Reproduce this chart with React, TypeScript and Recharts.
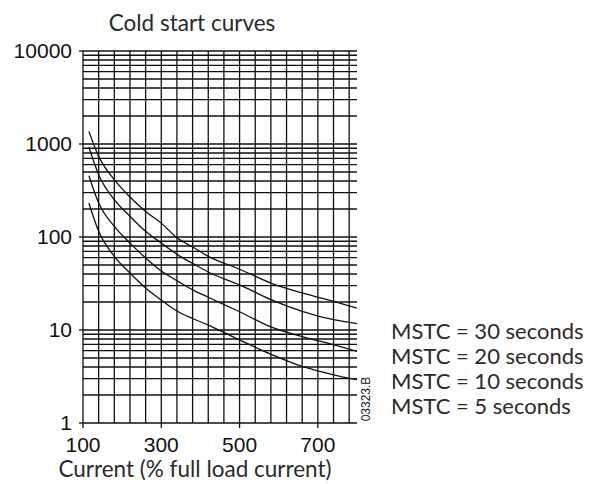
import { LineChart, Line, XAxis, YAxis, CartesianGrid, Customized } from 'recharts';

const currents = [115, 140, 180, 220, 260, 300, 340, 380, 420, 500, 580, 660, 740, 800];
const mstc30 = [1366, 736, 413, 269, 188, 141, 98, 78, 62, 45, 32, 25, 20.3, 17.2];
const mstc20 = [929, 468, 252, 167, 115, 86, 65, 52, 42, 30.5, 21.2, 15.9, 12.9, 11.7];
const mstc10 = [456, 232, 130, 86, 59.5, 43, 34, 27, 22.5, 15.7, 10.8, 8.5, 6.95, 5.9];
const mstc5 = [232, 115, 62, 41, 28.3, 21, 16, 13.3, 11.3, 7.8, 5.5, 4.06, 3.3, 2.92];

const xTicks = [100, 300, 500, 700];
const yTicks = [1, 10, 100, 1000, 10000];
const xGrid = [140, 180, 220, 260, 300, 340, 380, 420, 460, 500, 540, 580, 620, 660, 700, 740, 780];
const yGrid = [1, 10, 100, 1000].flatMap((d) => [2, 3, 4, 5, 6, 7, 8, 9, 10].map((m) => m * d));

const legendLabels = ['MSTC = 30 seconds', 'MSTC = 20 seconds', 'MSTC = 10 seconds', 'MSTC = 5 seconds'];

const data = currents.map((c, i) => ({
  current: c,
  s30: mstc30[i],
  s20: mstc20[i],
  s10: mstc10[i],
  s5: mstc5[i],
}));

const textFont = 'Lato, "Open Sans", sans-serif';
const numFont = '"Liberation Sans", Arial, sans-serif';

// grid lines go through the axis scales; fall back to the plot box if no scale is handed over
const horizontalLines = ({ yAxis, offset }: any) =>
  yGrid.map((v) =>
    yAxis && typeof yAxis.scale === 'function'
      ? yAxis.scale(v)
      : offset.top + offset.height * (1 - Math.log10(v) / 4)
  );

const verticalLines = ({ xAxis, offset }: any) =>
  xGrid.map((v) =>
    xAxis && typeof xAxis.scale === 'function'
      ? xAxis.scale(v)
      : offset.left + (offset.width * (v - 100)) / 700
  );

const Notes = () => (
  <g>
    <text x={192} y={31} textAnchor="middle" fontFamily={textFont} fontSize={22.5} fill="#2a2a2a">
      Cold start curves
    </text>
    <text x={195} y={477} textAnchor="middle" fontFamily={textFont} fontSize={22.5} fill="#2a2a2a">
      Current (% full load current)
    </text>
    {legendLabels.map((label, i) => (
      <text key={label} x={391} y={338.5 + i * 25.3} fontFamily={textFont} fontSize={22} fill="#2a2a2a">
        {label}
      </text>
    ))}
    <text
      x={370}
      y={399}
      transform="rotate(-90 370 399)"
      textAnchor="middle"
      fontFamily={numFont}
      fontSize={12}
      fill="#222"
    >
      03323.B
    </text>
  </g>
);

export default function App() {
  return (
    <div style={{ position: 'absolute', left: 0, top: 0, background: '#fff' }}>
      <LineChart width={589} height={484} data={data} margin={{ top: 51, right: 232, bottom: 0, left: 0 }}>
        <CartesianGrid
          stroke="#111"
          strokeWidth={1.3}
          horizontalCoordinatesGenerator={horizontalLines}
          verticalCoordinatesGenerator={verticalLines}
        />
        <XAxis
          dataKey="current"
          type="number"
          domain={[100, 800]}
          ticks={xTicks}
          height={61}
          tickSize={5}
          tickMargin={9}
          axisLine={{ stroke: '#111', strokeWidth: 1.3 }}
          tickLine={{ stroke: '#111', strokeWidth: 1.3 }}
          tick={{ fill: '#111', fontSize: 21, fontFamily: numFont }}
          allowDataOverflow
        />
        <YAxis
          scale="log"
          domain={[1, 10000]}
          ticks={yTicks}
          width={83}
          tickSize={4}
          tickMargin={7}
          axisLine={{ stroke: '#111', strokeWidth: 1.3 }}
          tickLine={{ stroke: '#111', strokeWidth: 1.3 }}
          tick={{ fill: '#111', fontSize: 21, fontFamily: numFont }}
          allowDataOverflow
        />
        <Line type="monotone" dataKey="s30" stroke="#111" strokeWidth={1.3} dot={false} isAnimationActive={false} />
        <Line type="monotone" dataKey="s20" stroke="#111" strokeWidth={1.3} dot={false} isAnimationActive={false} />
        <Line type="monotone" dataKey="s10" stroke="#111" strokeWidth={1.3} dot={false} isAnimationActive={false} />
        <Line type="monotone" dataKey="s5" stroke="#111" strokeWidth={1.3} dot={false} isAnimationActive={false} />
        <Customized component={Notes} />
      </LineChart>
    </div>
  );
}
